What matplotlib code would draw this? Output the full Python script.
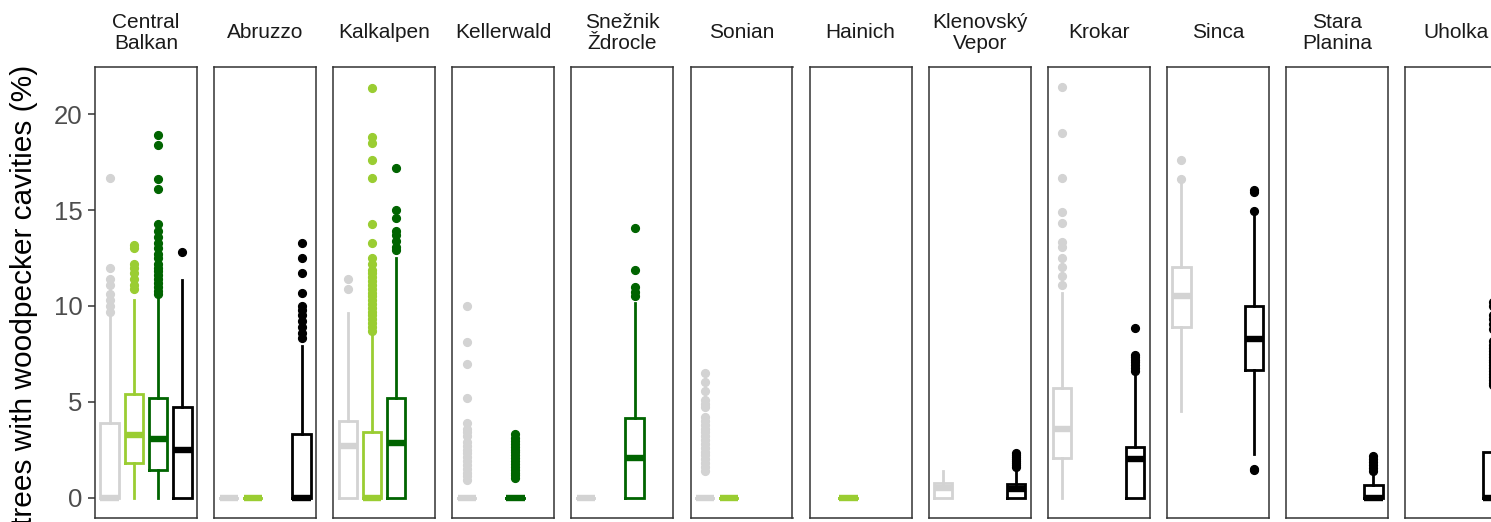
import matplotlib
matplotlib.use("Agg")
import matplotlib.pyplot as plt

# sites shown as facets, left to right
sites = ["Central\nBalkan", "Abruzzo", "Kalkalpen", "Kellerwald", "Snežnik\nŽdrocle",
         "Sonian", "Hainich", "Klenovský\nVepor", "Krokar", "Sinca",
         "Stara\nPlanina", "Uholka"]

# box stats per site: (whisker low, q1, median, q3, whisker high); None = no data
grey_boxes = [(0, 0, 0, 3.9, 9.55), (0, 0, 0, 0, 0), (0, 0, 2.68, 3.99, 9.64),
              (0, 0, 0, 0, 0), (0, 0, 0, 0, 0), (0, 0, 0, 0, 0), None,
              (0, 0, 0.5, 0.78, 1.36), (0, 2.08, 3.55, 5.73, 10.7),
              (4.5, 8.9, 10.5, 12.05, 16.5), None, None]
grey_fliers = [[9.7, 10.0, 10.3, 10.6, 11.1, 11.4, 12.0, 16.7], [], [10.9, 11.4],
               [0.9, 1.1, 1.3, 1.5, 1.7, 1.9, 2.1, 2.3, 2.5, 2.7, 2.9, 3.2, 3.4, 3.6,
                3.9, 5.2, 6.95, 8.1, 10.0],
               [],
               [1.4, 1.6, 1.8, 2.0, 2.2, 2.4, 2.6, 2.8, 3.0, 3.2, 3.4, 3.6, 3.8, 4.0,
                4.2, 4.7, 4.9, 5.1, 5.55, 6.05, 6.5],
               [], [],
               [11.1, 11.55, 12.05, 12.5, 13.05, 13.35, 14.35, 14.9, 16.7, 19.05, 21.45],
               [16.65, 17.6], [], []]

lgreen_boxes = [(0, 1.82, 3.24, 5.4, 10.3), (0, 0, 0, 0, 0), (0, 0, 0, 3.44, 8.5),
                None, None, (0, 0, 0, 0, 0), (0, 0, 0, 0, 0),
                None, None, None, None, None]
lgreen_fliers = [[10.9, 11.1, 11.4, 11.7, 12.0, 12.2, 13.0, 13.2], [],
                 [8.7, 8.9, 9.1, 9.3, 9.5, 9.7, 9.9, 10.1, 10.3, 10.5, 10.7, 10.9,
                  11.1, 11.3, 11.5, 11.7, 11.9, 12.2, 12.5, 13.3, 14.3, 16.7, 17.6,
                  18.5, 18.8, 21.4],
                 [], [], [], [], [], [], [], [], []]

dgreen_boxes = [(0, 1.46, 3.03, 5.17, 10.5), None, (0, 0, 2.87, 5.17, 12.5),
                (0, 0, 0, 0, 0), (0, 0, 2.08, 4.17, 10.17), None, None,
                None, None, None, None, None]
dgreen_fliers = [[10.6, 10.8, 11.0, 11.2, 11.4, 11.6, 11.8, 12.0, 12.2, 12.5, 12.7,
                  13.0, 13.3, 13.6, 13.9, 14.3, 16.1, 16.6, 18.4, 18.9],
                 [],
                 [12.9, 13.1, 13.4, 13.7, 13.9, 14.6, 15.0, 17.2],
                 [1.0, 1.15, 1.3, 1.45, 1.6, 1.75, 1.9, 2.05, 2.2, 2.35, 2.5, 2.65,
                  2.8, 2.95, 3.1, 3.3],
                 [10.5, 10.75, 11.0, 11.85, 14.05],
                 [], [], [], [], [], [], []]

black_boxes = [(0, 0, 2.46, 4.7, 11.33), (0, 0, 0, 3.29, 7.9), None, None, None,
               None, None, (0, 0, 0.45, 0.72, 1.5), (0, 0, 2.0, 2.62, 6.5),
               (2.25, 6.65, 8.25, 10.0, 14.8), (0, 0, 0, 0.63, 1.3),
               (0, 0, 0, 2.35, 5.7)]
black_fliers = [[12.8],
                [8.3, 8.6, 8.9, 9.2, 9.5, 9.8, 10.0, 10.7, 11.7, 12.5, 13.3],
                [], [], [], [], [],
                [1.6, 1.7, 1.8, 1.9, 2.0, 2.1, 2.2, 2.3],
                [6.6, 6.75, 6.9, 7.05, 7.2, 7.35, 7.45, 8.85],
                [1.45, 1.5, 14.95, 15.95, 16.05],
                [1.4, 1.55, 1.7, 1.85, 2.0, 2.15],
                [5.85, 6.0, 6.15, 6.3, 6.45, 6.6, 6.75, 6.9, 7.05, 7.2, 7.35, 7.5,
                 7.65, 7.8, 7.95, 8.15, 8.8, 9.05, 9.3, 9.55, 10.0, 10.2]]

y_ticks = [0, 5, 10, 15, 20]
y_label = "trees with woodpecker cavities (%)"

groups = [
    (grey_boxes, grey_fliers, "#D3D3D3"),
    (lgreen_boxes, lgreen_fliers, "#9ACD32"),
    (dgreen_boxes, dgreen_fliers, "#006400"),
    (black_boxes, black_fliers, "#000000"),
]

plt.rcParams["font.family"] = ["Liberation Sans", "DejaVu Sans"]

W, H = 1491, 522
fig = plt.figure(figsize=(W / 100, H / 100), dpi=100)

panel_w, step = 102, 119.1
panel_top, panel_bot = 67, 518

for i, site in enumerate(sites):
    left = 95 + step * i
    ax = fig.add_axes([left / W, (H - panel_bot) / H, panel_w / W,
                       (panel_bot - panel_top) / H])
    for pos, (boxes, fliers, col) in enumerate(groups, start=1):
        b = boxes[i]
        if b is None:
            continue
        lo, q1, med, q3, hi = b
        stats = [dict(whislo=lo, q1=q1, med=med, q3=q3, whishi=hi,
                      fliers=fliers[i])]
        ax.bxp(stats, positions=[pos], widths=0.75, showcaps=False,
               manage_ticks=False,
               boxprops=dict(color=col, linewidth=2.0,
                             solid_joinstyle="miter"),
               whiskerprops=dict(color=col, linewidth=2.0),
               medianprops=dict(color=col, linewidth=4.6,
                                solid_capstyle="butt"),
               flierprops=dict(marker="o", markerfacecolor=col,
                               markeredgecolor=col, markersize=5.6,
                               linestyle="none"))
    ax.set_xlim(0.4, 4.6)
    ax.set_ylim(-1.07, 22.47)
    ax.set_xticks([])
    for s in ax.spines.values():
        s.set_color("#333333")
        s.set_linewidth(1.1)
    if i == 0:
        ax.set_yticks(y_ticks)
        ax.tick_params(axis="y", length=5, width=1.1, color="#333333",
                       labelsize=18.5, labelcolor="#4D4D4D", pad=4)
    else:
        ax.set_yticks([])
    fig.text((left + panel_w / 2) / W, 1 - 33 / H, site, ha="center",
             va="center", fontsize=15, color="#1A1A1A", linespacing=1.15)

fig.text(24 / W, 1 - 65 / H, y_label, rotation=90, ha="center", va="top",
         fontsize=21.5, color="black")

fig.savefig("out.png", dpi=100)
